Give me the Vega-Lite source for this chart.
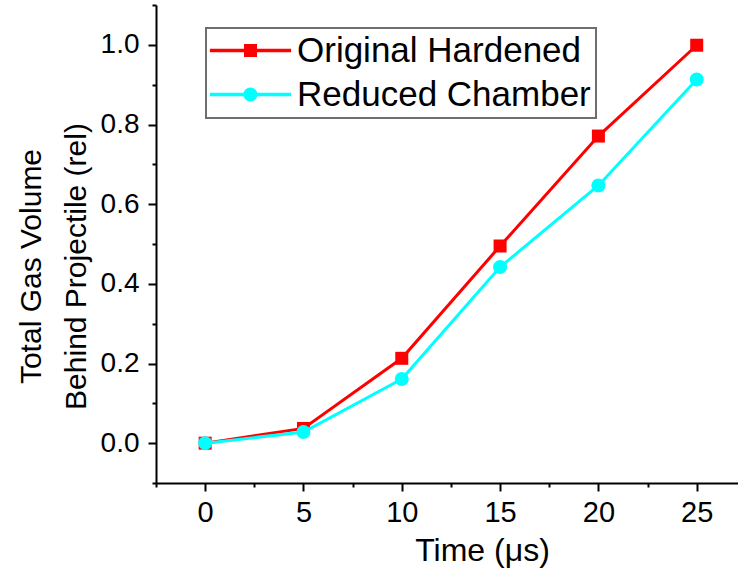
{
  "$schema": "https://vega.github.io/schema/vega-lite/v6.json",
  "width": 582,
  "height": 478,
  "autosize": "none",
  "padding": {"left": 156, "top": 5, "right": 0, "bottom": 96},
  "background": "white",
  "config": {
    "view": {"stroke": null},
    "font": "Liberation Sans",
    "axis": {
      "grid": false,
      "domainColor": "black",
      "domainWidth": 2,
      "tickColor": "black",
      "tickWidth": 2,
      "labelColor": "black",
      "titleColor": "black",
      "labelFont": "Liberation Sans",
      "titleFont": "Liberation Sans",
      "titleFontWeight": "normal",
      "labelFontSize": 28
    },
    "legend": {
      "strokeColor": "#6e6e6e",
      "strokeWidth": 2
    }
  },
  "datasets": {
    "pts": [
      {"t": 0, "series": "Original Hardened", "v": 0.0},
      {"t": 5, "series": "Original Hardened", "v": 0.037},
      {"t": 10, "series": "Original Hardened", "v": 0.213},
      {"t": 15, "series": "Original Hardened", "v": 0.495},
      {"t": 20, "series": "Original Hardened", "v": 0.771},
      {"t": 25, "series": "Original Hardened", "v": 0.999},
      {"t": 0, "series": "Reduced Chamber", "v": 0.0},
      {"t": 5, "series": "Reduced Chamber", "v": 0.028},
      {"t": 10, "series": "Reduced Chamber", "v": 0.161},
      {"t": 15, "series": "Reduced Chamber", "v": 0.442},
      {"t": 20, "series": "Reduced Chamber", "v": 0.647},
      {"t": 25, "series": "Reduced Chamber", "v": 0.913}
    ],
    "keys": [
      {"series": "Original Hardened", "t": null, "v": null},
      {"series": "Reduced Chamber", "t": null, "v": null}
    ]
  },
  "data": {"name": "pts"},
  "resolve": {"axis": {"x": "independent", "y": "independent"}},
  "layer": [
    {
      "transform": [{"filter": "datum.series === 'Original Hardened'"}],
      "mark": {"type": "line", "strokeWidth": 3, "color": "#ff0000"},
      "encoding": {
        "x": {
          "field": "t", "type": "quantitative",
          "scale": {"domain": [-2.5, 27.1], "nice": false, "zero": false},
          "axis": {
            "orient": "bottom",
            "values": [0, 5, 10, 15, 20, 25],
            "tickSize": 8,
            "labelFontSize": 29,
            "labelPadding": 7,
            "labelBaseline": "top",
            "title": "Time (μs)",
            "titleFontSize": 32,
            "titleX": 326,
            "titleY": 77,
            "titleAlign": "center",
            "titleBaseline": "alphabetic"
          }
        },
        "y": {
          "field": "v", "type": "quantitative",
          "scale": {"domain": [-0.1, 1.1], "nice": false, "zero": false},
          "axis": {
            "orient": "left",
            "values": [0, 0.2, 0.4, 0.6, 0.8, 1.0],
            "format": ".1f",
            "tickSize": 8,
            "labelPadding": 9,
            "title": ["Total Gas Volume", "Behind Projectile (rel)"],
            "titleFontSize": 30,
            "titleLineHeight": 45,
            "titleAngle": 270,
            "titleX": -116,
            "titleY": 261,
            "titleAlign": "center",
            "titleBaseline": "alphabetic"
          }
        }
      }
    },
    {
      "transform": [{"filter": "datum.series === 'Original Hardened'"}],
      "mark": {"type": "point", "shape": "square", "filled": true, "opacity": 1, "size": 169, "color": "#ff0000"},
      "encoding": {
        "x": {
          "field": "t", "type": "quantitative",
          "axis": {
            "orient": "bottom",
            "values": [-2.5, 2.5, 7.5, 12.5, 17.5, 22.5],
            "tickSize": 4,
            "labels": false,
            "domain": false,
            "title": null
          }
        },
        "y": {
          "field": "v", "type": "quantitative",
          "axis": {
            "orient": "left",
            "values": [-0.1, 0.1, 0.3, 0.5, 0.7, 0.9, 1.1],
            "tickSize": 4,
            "labels": false,
            "domain": false,
            "title": null
          }
        }
      }
    },
    {
      "transform": [{"filter": "datum.series === 'Reduced Chamber'"}],
      "mark": {"type": "line", "strokeWidth": 3, "color": "#00ffff"},
      "encoding": {
        "x": {"field": "t", "type": "quantitative", "axis": null},
        "y": {"field": "v", "type": "quantitative", "axis": null}
      }
    },
    {
      "transform": [{"filter": "datum.series === 'Reduced Chamber'"}],
      "mark": {"type": "point", "shape": "circle", "filled": true, "opacity": 1, "size": 196, "color": "#00ffff"},
      "encoding": {
        "x": {"field": "t", "type": "quantitative", "axis": null},
        "y": {"field": "v", "type": "quantitative", "axis": null}
      }
    },
    {
      "data": {"name": "keys"},
      "mark": {"type": "point", "filled": true, "opacity": 1},
      "encoding": {
        "x": {"field": "t", "type": "quantitative", "axis": null},
        "y": {"field": "v", "type": "quantitative", "axis": null},
        "color": {
          "field": "series", "type": "nominal",
          "scale": {"domain": ["Original Hardened", "Reduced Chamber"], "range": ["#ff0000", "#00ffff"]},
          "legend": {
            "title": null,
            "orient": "none",
            "legendX": 50,
            "legendY": 23,
            "padding": 5,
            "labelFont": "Liberation Sans",
            "labelFontSize": 35,
            "labelLimit": 500,
            "labelColor": "black",
            "symbolSize": 196,
            "symbolStrokeWidth": 0,
            "symbolOpacity": 1,
            "symbolOffset": 22,
            "labelOffset": 29,
            "rowPadding": 8
          }
        },
        "shape": {
          "field": "series", "type": "nominal",
          "scale": {
            "domain": ["Original Hardened", "Reduced Chamber"],
            "range": [
              "M-5.8,-0.24H5.8V0.24H-5.8Z M-0.93,-0.93H0.93V0.93H-0.93Z",
              "M-5.8,-0.24H5.8V0.24H-5.8Z M-1,0A1,1 0 1,1 1,0A1,1 0 1,1 -1,0Z"
            ]
          },
          "legend": {
            "title": null,
            "orient": "none",
            "legendX": 50,
            "legendY": 23,
            "padding": 5,
            "labelFont": "Liberation Sans",
            "labelFontSize": 35,
            "labelLimit": 500,
            "labelColor": "black",
            "symbolSize": 196,
            "symbolStrokeWidth": 0,
            "symbolOpacity": 1,
            "symbolOffset": 22,
            "labelOffset": 29,
            "rowPadding": 8
          }
        }
      }
    }
  ]
}
